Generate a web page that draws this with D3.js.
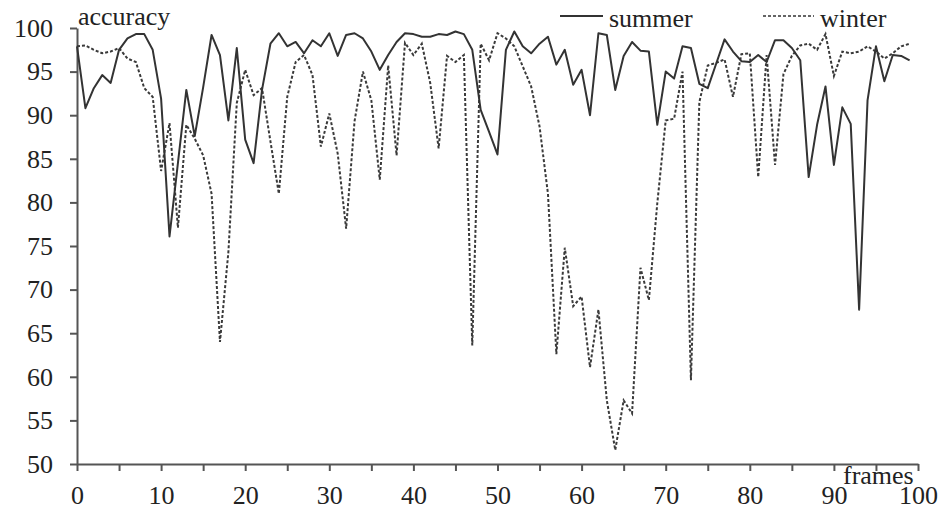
<!DOCTYPE html>
<html>
<head>
<meta charset="utf-8">
<script src="https://cdn.jsdelivr.net/npm/d3@7"></script>
<style>
  body { margin: 0; background: #fff; }
  svg { display: block; font-family: "Liberation Serif", "DejaVu Serif", serif; }
  .axis path, .axis line { stroke: #555; stroke-width: 2; }
  .axis text { font-size: 26px; fill: #222; font-family: "Liberation Serif", serif; }
</style>
</head>
<body>
<svg id="chart" width="942" height="511"></svg>
<script>
"use strict";

// frame index 0..99
const frames = d3.range(0, 100);

const summer = [
  97.9, 90.8, 93.1, 94.6, 93.7, 97.5, 98.8, 99.3, 99.3, 97.5,
  91.9, 76.1, 84.5, 92.9, 87.6, 93.2, 99.2, 96.9, 89.4, 97.7,
  87.2, 84.5, 92.9, 98.2, 99.4, 97.9, 98.4, 97.1, 98.6, 97.9,
  99.4, 96.8, 99.2, 99.4, 98.8, 97.3, 95.2, 96.9, 98.4, 99.4,
  99.3, 99.0, 99.0, 99.3, 99.2, 99.6, 99.3, 97.5, 90.6, 88.1,
  85.5, 97.5, 99.6, 97.9, 97.1, 98.2, 99.0, 95.8, 97.5, 93.5,
  95.2, 90.0, 99.4, 99.2, 92.9, 96.8, 98.4, 97.4, 97.3, 88.9,
  95.0, 94.2, 97.9, 97.7, 93.6, 93.1, 95.9, 98.7, 97.3, 96.2,
  96.1, 96.9, 96.1, 98.6, 98.6, 97.7, 96.3, 82.9, 88.9, 93.3,
  84.3, 90.9, 89.0, 67.7, 91.7, 97.9, 93.9, 96.9, 96.8, 96.3
];

const winter = [
  97.9, 98.0, 97.5, 97.1, 97.3, 97.7, 96.5, 96.1, 93.1, 92.1,
  83.6, 89.1, 77.1, 88.9, 87.3, 85.4, 81.0, 64.0, 74.3, 91.4,
  95.2, 92.3, 93.1, 87.0, 81.0, 92.1, 96.1, 96.9, 94.6, 86.4,
  90.2, 85.6, 77.0, 89.3, 95.0, 91.7, 82.6, 95.7, 85.4, 98.3,
  96.9, 98.2, 93.7, 86.2, 96.8, 96.1, 96.9, 63.6, 98.2, 96.3,
  99.4, 98.8, 97.9, 95.6, 93.3, 88.7, 81.0, 62.6, 74.8, 68.1,
  69.2, 61.1, 67.7, 57.3, 51.6, 57.3, 55.8, 72.5, 68.8, 79.9,
  89.4, 89.6, 95.0, 59.6, 91.5, 95.7, 96.0, 96.4, 92.1, 97.0,
  97.1, 82.9, 96.9, 84.3, 94.7, 96.8, 98.0, 98.2, 97.5, 99.3,
  94.5, 97.3, 97.1, 97.3, 97.9, 97.3, 96.5, 97.1, 97.9, 98.2
];

const xTicks = d3.range(0, 101, 5);
const yTicks = d3.range(50, 101, 5);

const svg = d3.select("#chart");

const x = d3.scaleLinear().domain([0, 100]).range([77, 918]);
const y = d3.scaleLinear().domain([50, 100]).range([464, 28]);

svg.append("rect").attr("width", 942).attr("height", 511).attr("fill", "#fff");

// axes
svg.append("g")
  .attr("class", "axis")
  .attr("transform", `translate(0,${y(50)})`)
  .call(d3.axisBottom(x).tickValues(xTicks).tickSize(7).tickSizeOuter(0).tickPadding(15)
    .tickFormat(d => d % 10 === 0 ? d : ""));

svg.append("g")
  .attr("class", "axis")
  .attr("transform", `translate(${x(0)},0)`)
  .call(d3.axisLeft(y).tickValues(yTicks).tickSize(7).tickSizeOuter(0).tickPadding(17));

// series
const line = series => d3.line()
  .x((d, i) => x(frames[i]))
  .y(d => y(d))(series);

svg.append("path")
  .attr("d", line(winter))
  .attr("fill", "none")
  .attr("stroke", "#3a3a3a")
  .attr("stroke-width", 2)
  .attr("stroke-dasharray", "3,2");

svg.append("path")
  .attr("d", line(summer))
  .attr("fill", "none")
  .attr("stroke", "#333")
  .attr("stroke-width", 2)
  .attr("stroke-linejoin", "round");

// axis titles
svg.append("text")
  .attr("x", 78).attr("y", 25)
  .attr("font-size", 26).attr("fill", "#222")
  .text("accuracy");

svg.append("text")
  .attr("x", 843).attr("y", 484)
  .attr("font-size", 26).attr("fill", "#222")
  .text("frames");

// legend
const legend = [
  {name: "summer", x0: 560, x1: 603, dash: null},
  {name: "winter", x0: 763, x1: 814, dash: "3,2"}
];

legend.forEach(d => {
  svg.append("line")
    .attr("x1", d.x0).attr("x2", d.x1)
    .attr("y1", 16).attr("y2", 16)
    .attr("stroke", "#333")
    .attr("stroke-width", d.dash ? 1.5 : 2)
    .attr("stroke-dasharray", d.dash);
  svg.append("text")
    .attr("x", d.x1 + 6).attr("y", 27)
    .attr("font-size", 26).attr("fill", "#222")
    .text(d.name);
});
</script>
</body>
</html>
